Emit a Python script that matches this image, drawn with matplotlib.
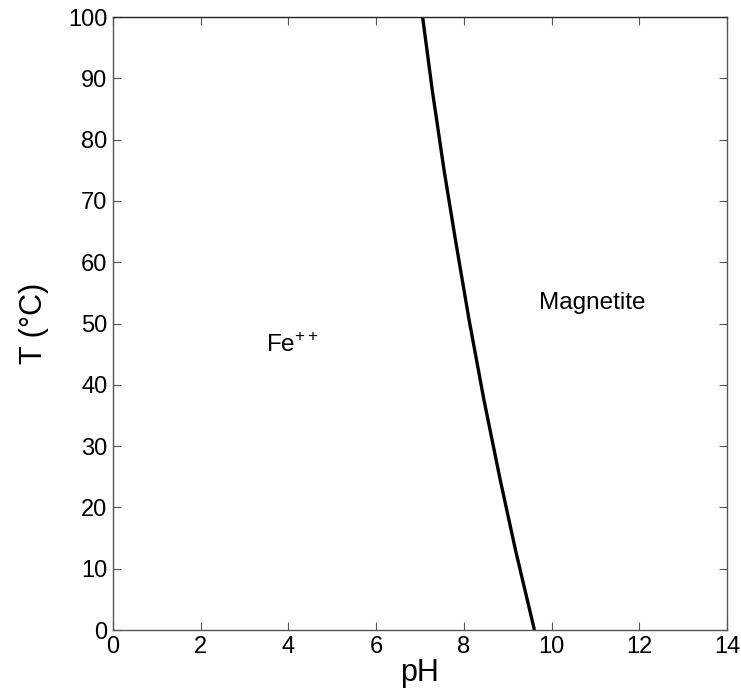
import matplotlib
matplotlib.use("Agg")
import matplotlib.pyplot as plt

# Boundary Fe++ / Magnetite
temp_c = [0, 13.0, 24.5, 37.5, 50.6, 63.6, 75.0, 88.1, 100]
ph_boundary = [9.61, 9.18, 8.83, 8.46, 8.12, 7.81, 7.55, 7.28, 7.06]

x_ticks = [0, 2, 4, 6, 8, 10, 12, 14]
y_ticks = [0, 10, 20, 30, 40, 50, 60, 70, 80, 90, 100]

labels = ["Fe$^{++}$", "Magnetite"]
label_x = [3.5, 9.72]
label_y = [46.5, 53.3]

plt.rcParams['font.family'] = ['Liberation Sans', 'DejaVu Sans']
plt.rcParams['mathtext.fontset'] = 'custom'
plt.rcParams['mathtext.rm'] = 'Liberation Sans'

fig = plt.figure(figsize=(7.41, 6.94), dpi=100)
ax = fig.add_axes([0.1525, 0.0922, 0.981 - 0.1525, 0.9755 - 0.0922])

ax.plot(ph_boundary, temp_c, color='black', linewidth=2.4,
        solid_joinstyle='round', solid_capstyle='butt')

ax.set_xlim(0, 14)
ax.set_ylim(0, 100)
ax.set_xticks(x_ticks)
ax.set_yticks(y_ticks)
ax.tick_params(direction='in', length=6, width=0.8, color='#555555',
               top=True, right=True, labelsize=17, pad=4)
for s in ax.spines.values():
    s.set_color('#555555')
    s.set_linewidth(1.0)
ax.spines['top'].set_color('#222222')

ax.set_xlabel('pH', fontsize=22, labelpad=0)
ax.set_ylabel('T (°C)', fontsize=22, labelpad=14)

ax.text(label_x[0], label_y[0], labels[0], fontsize=17.5, ha='left', va='center')
ax.text(label_x[1], label_y[1], labels[1], fontsize=17.5, ha='left', va='center')

fig.savefig('out.png', dpi=100)
